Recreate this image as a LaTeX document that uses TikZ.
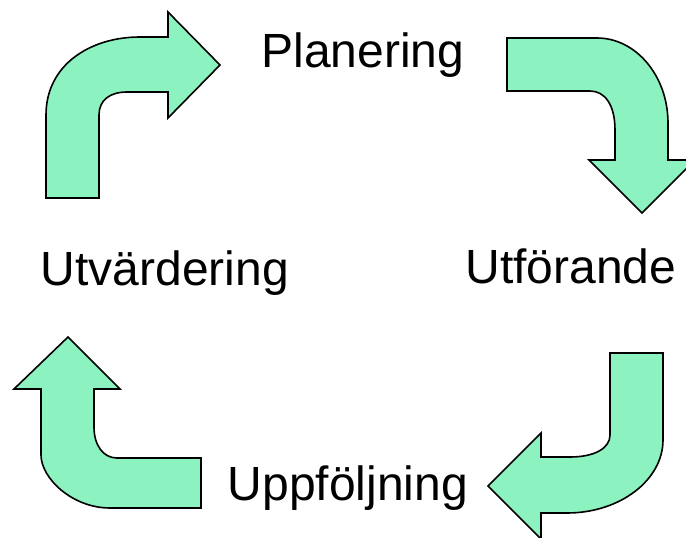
\documentclass[tikz,border=0pt]{standalone}
\usepackage{fontspec}
\setmainfont{Liberation Sans}
\definecolor{mint}{RGB}{140,242,192}
\begin{document}
\begin{tikzpicture}[x=1pt,y=-1pt,
  bentarrow/.style={draw=black,fill=mint,line width=1.6pt,line join=miter},
  label/.style={anchor=base,inner sep=0pt,font=\fontsize{48}{50}\selectfont}]
\useasboundingbox (0,0) rectangle (686,538);
% top-left arrow
\draw[bentarrow] (46,198) -- (46,115) .. controls (46,65) and (90,37) .. (140,37)
  -- (168,37) -- (168,12) -- (220,65) -- (168,118) -- (168,92) -- (127,92)
  .. controls (110,92) and (99,100) .. (99,115) -- (99,198) -- cycle;
% top-right arrow
\draw[bentarrow] (507,38) -- (597,38) .. controls (636,38) and (668,76) .. (668,123)
  -- (668,160) -- (695,160) -- (642,213) -- (589,160) -- (615,160) -- (615,130)
  .. controls (615,105) and (605,91) .. (590,91) -- (507,91) -- cycle;
% bottom-right arrow
\draw[bentarrow] (610,353) -- (663,353) -- (663,440) .. controls (663,480) and (620,513) .. (567,513)
  -- (541,513) -- (541,539) -- (488,486) -- (541,433) -- (541,457) -- (570,457)
  .. controls (595,457) and (610,448) .. (610,435) -- cycle;
% bottom-left arrow
\draw[bentarrow] (68,337) -- (120,389) -- (94,389) -- (94,427)
  .. controls (94,445) and (103,458) .. (117,458) -- (201,458) -- (201,508) -- (110,508)
  .. controls (72,508) and (41,478) .. (41,455) -- (41,389) -- (14,389) -- cycle;
\node[label] (plan) at (363,67) {Planering};
\node[label] (utv) at (165,285) {Utvärdering};
\node[label] (utf) at (571,283) {Utförande};
\node[label] (upp) at (348,500) {Uppföljning};
\end{tikzpicture}
\end{document}
